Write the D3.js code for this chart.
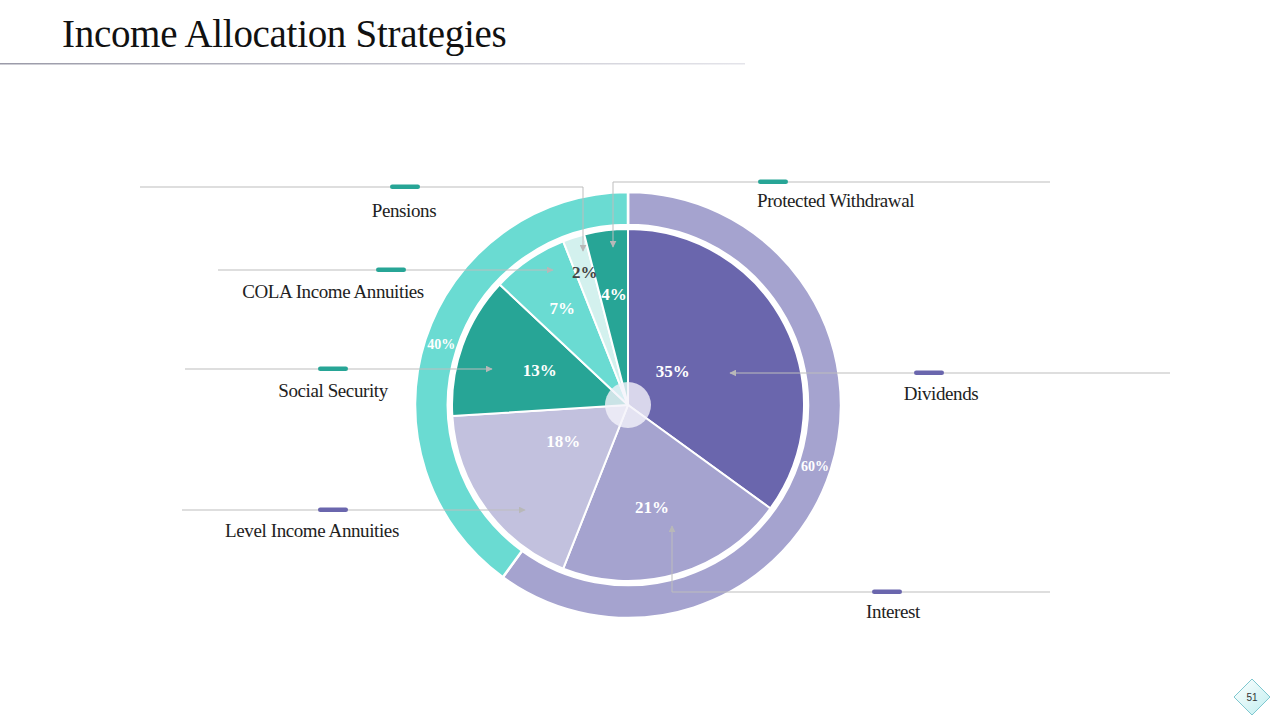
<!DOCTYPE html>
<html>
<head>
<meta charset="utf-8">
<script src="https://cdn.jsdelivr.net/npm/d3@7"></script>
<style>
  html, body { margin: 0; padding: 0; background: #fff; }
  svg { display: block; }
</style>
</head>
<body>
<svg id="chart" width="1280" height="720"></svg>
<script>
// ---- data ----
const categories = ["Dividends", "Interest", "Level Income Annuities", "Social Security", "COLA Income Annuities", "Pensions", "Protected Withdrawal"];
const values = [35, 21, 18, 13, 7, 2, 4];
const sliceColors = ["#6A66AD", "#A5A3CF", "#C2C1DE", "#27A596", "#6ADBD2", "#D3F1EE", "#27A596"];
const labelColors = ["#fff", "#fff", "#fff", "#fff", "#fff", "#444", "#fff"];
const outerCategories = ["Purple group", "Teal group"];
const outerValues = [60, 40];
const outerColors = ["#A5A3CF", "#6ADBD2"];
const title = "Income Allocation Strategies";
const pageNumber = "51";

// ---- layout ----
const svg = d3.select("#chart");
const cx = 628, cy = 405;
const rPie = 176, rRingIn = 180, rRingOut = 213;
const serif = "'Liberation Serif', 'DejaVu Serif', serif";

const defs = svg.append("defs");
const grad = defs.append("linearGradient").attr("id", "tl").attr("x1", "0").attr("x2", "1");
grad.append("stop").attr("offset", "0").attr("stop-color", "#9a9aa8");
grad.append("stop").attr("offset", "1").attr("stop-color", "#e4e4ea");
const dg = defs.append("linearGradient").attr("id", "dg").attr("x1", "0").attr("y1", "0").attr("x2", "1").attr("y2", "1");
dg.append("stop").attr("offset", "0").attr("stop-color", "#ffffff");
dg.append("stop").attr("offset", "1").attr("stop-color", "#bfeef0");
const mk = defs.append("marker").attr("id", "arr").attr("viewBox", "0 0 10 10")
  .attr("refX", 9).attr("refY", 5).attr("markerWidth", 7).attr("markerHeight", 7)
  .attr("orient", "auto-start-reverse").attr("markerUnits", "userSpaceOnUse");
mk.append("path").attr("d", "M0,0 L10,5 L0,10 z").attr("fill", "#b8b8b8");

// title
svg.append("text").attr("x", 62).attr("y", 47).attr("font-family", serif)
  .attr("font-size", 39).attr("fill", "#111").attr("letter-spacing", -0.3).text(title);
svg.append("rect").attr("x", 0).attr("y", 63).attr("width", 745).attr("height", 1.5).attr("fill", "url(#tl)");

// scales / generators
const pie = d3.pie().sort(null).value(d => d);
const arcs = pie(values);
const outerArcs = pie(outerValues);
const arcInner = d3.arc().innerRadius(0).outerRadius(rPie);
const arcOuter = d3.arc().innerRadius(rRingIn).outerRadius(rRingOut);

const g = svg.append("g").attr("transform", `translate(${cx},${cy})`);

g.selectAll("path.outer").data(outerArcs).join("path")
  .attr("class", "outer").attr("d", arcOuter)
  .attr("fill", (d, i) => outerColors[i]).attr("stroke", "#fff").attr("stroke-width", 2.5);

g.selectAll("path.inner").data(arcs).join("path")
  .attr("class", "inner").attr("d", arcInner)
  .attr("fill", (d, i) => sliceColors[i]).attr("stroke", "#fff").attr("stroke-width", 2);

// center circle
g.append("circle").attr("r", 23).attr("fill", "#f4f3fa").attr("fill-opacity", 0.8);

// inner percent labels
const labelR = [56, 105, 74, 95, 117, 140, 112];
const labelShift = [-10, 3, 7, 2, 0, 0, 0];
const fmt = d => d + "%";
const ang = (d, i) => (d.startAngle + d.endAngle) / 2 + labelShift[i] * Math.PI / 180;
g.selectAll("text.pl").data(arcs).join("text")
  .attr("class", "pl")
  .attr("x", (d, i) => labelR[i] * Math.sin(ang(d, i)))
  .attr("y", (d, i) => -labelR[i] * Math.cos(ang(d, i)))
  .attr("dy", "0.35em").attr("text-anchor", "middle")
  .attr("font-family", serif).attr("font-weight", "bold").attr("font-size", 17)
  .attr("fill", (d, i) => labelColors[i]).text(d => fmt(d.data));

// outer ring labels
const rMid = (rRingIn + rRingOut) / 2;
g.selectAll("text.ol").data(outerArcs).join("text")
  .attr("class", "ol")
  .attr("x", d => rMid * Math.sin((d.startAngle + d.endAngle) / 2))
  .attr("y", d => -rMid * Math.cos((d.startAngle + d.endAngle) / 2))
  .attr("dy", "0.35em").attr("text-anchor", "middle")
  .attr("font-family", serif).attr("font-weight", "bold").attr("font-size", 14)
  .attr("fill", "#fff").text(d => fmt(d.data));

// callouts
const callouts = [
  { i: 0, pts: [[1170, 373], [730, 373]], bar: 914, label: [941, 393], anchor: "middle" },
  { i: 1, pts: [[1050, 592], [672, 592], [672, 526]], bar: 872, label: [893, 611], anchor: "middle" },
  { i: 2, pts: [[182, 510], [525, 510]], bar: 318, label: [312, 530], anchor: "middle" },
  { i: 3, pts: [[185, 369], [492, 369]], bar: 318, label: [333, 390], anchor: "middle" },
  { i: 4, pts: [[218, 270], [553, 270]], bar: 376, label: [333, 291], anchor: "middle" },
  { i: 5, pts: [[140, 187], [583, 187], [583, 251]], bar: 390, label: [404, 210], anchor: "middle" },
  { i: 6, pts: [[1050, 182], [613, 182], [613, 247]], bar: 758, label: [757, 200], anchor: "start" }
];
const line = d3.line();
const cg = svg.append("g");
callouts.forEach(c => {
  cg.append("path").attr("d", line(c.pts)).attr("fill", "none")
    .attr("stroke", "#bdbdbd").attr("stroke-width", 1).attr("marker-end", "url(#arr)");
  cg.append("rect").attr("x", c.bar).attr("y", c.pts[0][1] - 2.5).attr("width", 30).attr("height", 4.5)
    .attr("rx", 2.2).attr("fill", c.i <= 2 ? "#6A66AD" : "#27A596");
  cg.append("text").attr("x", c.label[0]).attr("y", c.label[1]).attr("dy", "0.35em")
    .attr("text-anchor", c.anchor).attr("font-family", serif).attr("font-size", 19)
    .attr("letter-spacing", -0.4).attr("fill", "#222").text(categories[c.i]);
});

// page number diamond
const pg = svg.append("g").attr("transform", "translate(1252,697)");
pg.append("path").attr("d", "M0,-18 L18,0 L0,18 L-18,0 Z").attr("fill", "url(#dg)")
  .attr("stroke", "#7fc7cf").attr("stroke-width", 1);
pg.append("text").attr("dy", "0.35em").attr("text-anchor", "middle")
  .attr("font-family", "'Liberation Sans', Arial, sans-serif").attr("font-size", 10)
  .attr("fill", "#333").text(pageNumber);
</script>
</body>
</html>
